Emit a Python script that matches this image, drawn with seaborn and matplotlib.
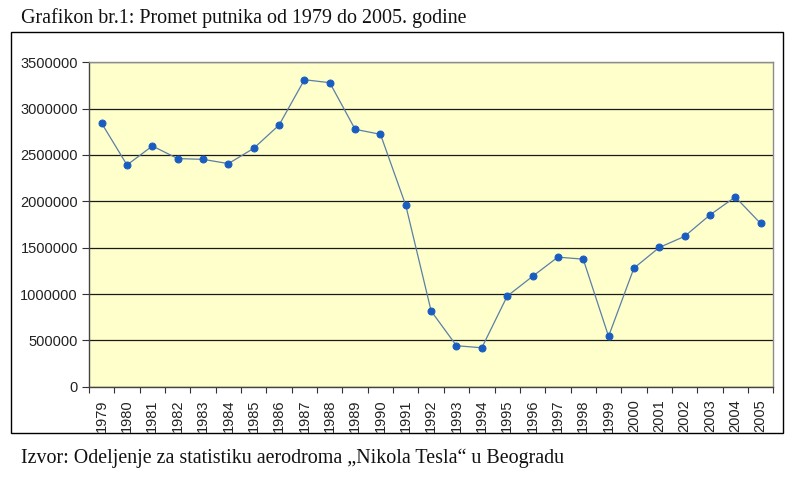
import matplotlib
matplotlib.use("Agg")
import matplotlib.pyplot as plt
import seaborn as sns
import pandas as pd
from matplotlib.patches import Rectangle
from matplotlib.ticker import MultipleLocator, FixedLocator

years = [str(y) for y in range(1979, 2006)]
passengers = [2842000, 2392000, 2597000, 2461000, 2453000, 2407000, 2572000,
              2823000, 3312000, 3280000, 2777000, 2723000, 1955000, 816000,
              442000, 420000, 977000, 1190000, 1398000, 1376000, 543000,
              1279000, 1502000, 1622000, 1853000, 2047000, 1761000]
title_text = "Grafikon br.1: Promet putnika od 1979 do 2005. godine"
source_text = "Izvor: Odeljenje za statistiku aerodroma \u201eNikola Tesla\u201c u Beogradu"

sns.set_style("white")
plt.rcParams["font.family"] = ["Liberation Sans", "DejaVu Sans"]

df = pd.DataFrame({"pos": range(len(years)), "year": years, "value": passengers})

fig = plt.figure(figsize=(7.99, 4.78), dpi=100)
fig.patch.set_facecolor("white")
fig.patches.append(Rectangle((11/799, 1-433/478), 772/799, 401/478,
                             transform=fig.transFigure, fill=False,
                             edgecolor="black", linewidth=1.0))
ax = fig.add_axes([89/799, 1-386.7/478, (773.3-89)/799, (386.7-62.3)/478])
ax.set_facecolor("#FFFFCC")

sns.lineplot(data=df, x="pos", y="value", ax=ax, color="#5B7FA6", linewidth=0.9,
             marker="o", markersize=5, markerfacecolor="#1A5DC0",
             markeredgecolor="#1A5DC0", zorder=3)

ax.set_xlim(-0.5, len(years) - 0.5)
ax.set_ylim(0, 3500000)
ax.yaxis.set_major_locator(MultipleLocator(500000))
ax.set_yticklabels([f"{int(v)}" for v in ax.get_yticks()])
ax.grid(axis="y", color="#1A1A1A", linewidth=0.9)
ax.set_axisbelow(True)

ax.set_xticks(range(len(years)))
ax.set_xticklabels(years, rotation=90, fontsize=10.5, color="#222222")
ax.xaxis.set_minor_locator(FixedLocator([i - 0.5 for i in range(len(years) + 1)]))
ax.tick_params(axis="x", which="major", length=0, pad=9)
ax.tick_params(axis="x", which="minor", length=4, width=0.8, color="#333333", direction="out", bottom=True)
ax.tick_params(axis="y", which="major", length=5, width=0.8, color="#333333",
               direction="out", left=True, labelsize=10.5, labelcolor="#222222", pad=3)

for s in ["top", "right"]:
    ax.spines[s].set_color("#8C8C8C")
    ax.spines[s].set_linewidth(1.0)
for s in ["left", "bottom"]:
    ax.spines[s].set_color("#444444")
    ax.spines[s].set_linewidth(1.0)
ax.set_xlabel("")
ax.set_ylabel("")

fig.text(21/799, 1-18/478, title_text, fontsize=14.4, va="center", ha="left",
         family=["Liberation Serif", "DejaVu Serif"], color="#111111")
fig.text(21/799, 1-458/478, source_text, fontsize=14.4, va="center", ha="left",
         family=["Liberation Serif", "DejaVu Serif"], color="#111111")

fig.savefig("out.png", dpi=100)
